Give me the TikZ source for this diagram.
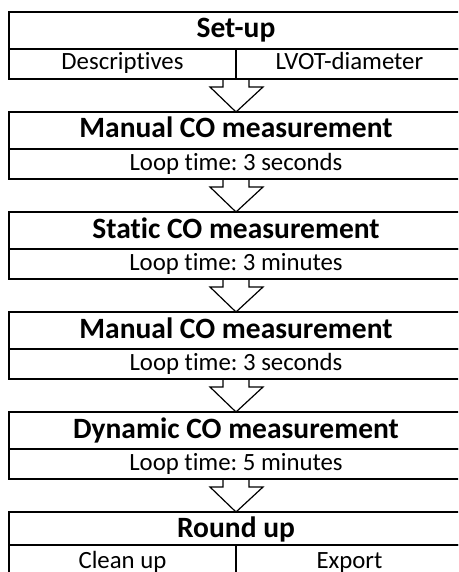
\documentclass[tikz,border=0pt]{standalone}
\usepackage{fontspec}
\setmainfont{Carlito}[Ligatures=NoCommon]
\frenchspacing
\usetikzlibrary{calc,positioning}

\tikzset{
  stagebox/.style={rectangle,draw,line width=1.6pt,outer sep=0pt,inner sep=0pt,
    minimum width=454pt,minimum height=37pt,text height=21.5pt,text depth=6.5pt,
    font=\fontsize{29.5}{33}\selectfont\bfseries},
  subbox/.style={rectangle,draw,line width=1.6pt,outer sep=0pt,inner sep=0pt,
    minimum width=454pt,minimum height=30pt,text height=18pt,text depth=6pt,
    font=\fontsize{24.8}{28}\selectfont},
  halfbox/.style={subbox,minimum width=227pt},
  flowarrow/.style={draw,line width=1.2pt,line join=miter}
}

\begin{document}
\begin{tikzpicture}[x=1pt,y=-1pt]
      \path[use as bounding box,clip] (0,0) rectangle (458,572);
      % stages
      \node[stagebox] (setup) at (236,30.5) {Set-up};
      \node[halfbox] (desc) at (122.5,64) {Descriptives};
      \node[halfbox] (lvot) at (349.5,64) {LVOT-diameter};
      \node[stagebox] (manual1) at (236,130.5) {Manual CO measurement};
      \node[subbox] (loop1) at (236,164) {Loop time: 3 seconds};
      \node[stagebox] (static) at (236,230.5) {Static CO measurement};
      \node[subbox] (loop2) at (236,264) {Loop time: 3 minutes};
      \node[stagebox] (manual2) at (236,330.5) {Manual CO measurement};
      \node[subbox] (loop3) at (236,364) {Loop time: 3 seconds};
      \node[stagebox] (dynamic) at (236,430.5) {Dynamic CO measurement};
      \node[subbox] (loop4) at (236,464) {Loop time: 5 minutes};
      \node[stagebox,minimum height=33pt,text height=22pt,text depth=5pt] (roundup) at (236,528.5) {Round up};
      \node[halfbox,text height=20pt,text depth=4pt] (clean) at (122.5,560) {Clean up};
      \node[halfbox,text height=20pt,text depth=4pt] (export) at (349.5,560) {Export};
      % block arrows
      \draw[flowarrow] ($(desc.south east)+(-13,0)$) -- ++(0,8) -- ++(-13,0) -- (manual1.north) -- ++(27,-25) -- ++(-14,0) -- ++(0,-8);
      \draw[flowarrow] ($(loop1.south)+(-13,0)$) -- ++(0,8) -- ++(-13,0) -- (static.north) -- ++(27,-25) -- ++(-14,0) -- ++(0,-8);
      \draw[flowarrow] ($(loop2.south)+(-13,0)$) -- ++(0,8) -- ++(-13,0) -- (manual2.north) -- ++(27,-25) -- ++(-14,0) -- ++(0,-8);
      \draw[flowarrow] ($(loop3.south)+(-13,0)$) -- ++(0,8) -- ++(-13,0) -- (dynamic.north) -- ++(27,-25) -- ++(-14,0) -- ++(0,-8);
      \draw[flowarrow] ($(loop4.south)+(-13,0)$) -- ++(0,8) -- ++(-13,0) -- (roundup.north) -- ++(27,-25) -- ++(-14,0) -- ++(0,-8);
\end{tikzpicture}
\end{document}
